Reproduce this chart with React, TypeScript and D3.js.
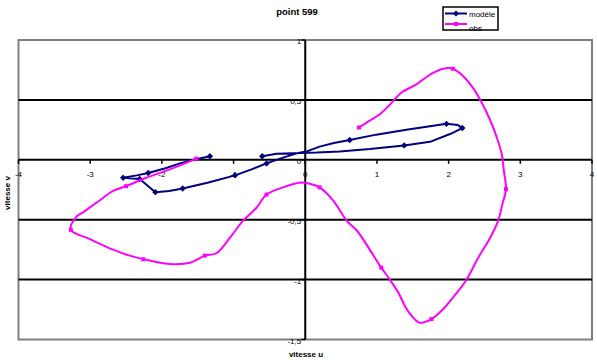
import React from "react";
import * as d3 from "d3";

const title = "point 599";
const xLabel = "vitesse u";
const yLabel = "vitesse v";
const xTicks = [-4, -3, -2, -1, 0, 1, 2, 3, 4];
const yTicks = [1, 0.5, 0, -0.5, -1, -1.5];
const gridValues = [0.5, -0.5, -1];

const modeleLine: [number, number][] = [
  [-1.33, 0.03], [-1.55, 0.0], [-1.75, -0.03], [-1.95, -0.07], [-2.19, -0.11],
  [-2.35, -0.13], [-2.54, -0.15], [-2.31, -0.16], [-2.09, -0.27], [-1.9, -0.26],
  [-1.71, -0.24], [-1.35, -0.19], [-0.98, -0.13], [-0.75, -0.08], [-0.54, -0.03],
  [-0.3, 0.02], [-0.08, 0.06], [0.02, 0.07], [0.2, 0.11], [0.4, 0.14], [0.62, 0.165],
  [0.99, 0.21], [1.41, 0.25], [1.74, 0.28], [1.97, 0.3], [2.13, 0.29], [2.19, 0.265],
  [2.02, 0.215], [1.74, 0.15], [1.38, 0.12], [0.9, 0.09], [0.48, 0.07], [0.16, 0.06],
  [-0.4, 0.05], [-0.6, 0.03],
];
const modeleMarkers: [number, number][] = [
  [-1.33, 0.03], [-2.19, -0.11], [-2.54, -0.15], [-2.31, -0.16], [-2.09, -0.27],
  [-1.71, -0.24], [-0.98, -0.13], [-0.54, -0.03], [0.62, 0.165], [1.97, 0.3],
  [2.19, 0.265], [1.38, 0.12], [-0.6, 0.03],
];

const obsLine: [number, number][] = [
  [0.75, 0.27], [0.88, 0.32], [1.04, 0.38], [1.18, 0.46], [1.34, 0.56], [1.55, 0.63],
  [1.74, 0.71], [1.92, 0.76], [2.06, 0.76], [2.2, 0.7], [2.34, 0.6], [2.45, 0.49],
  [2.58, 0.33], [2.67, 0.19], [2.74, 0.05], [2.77, -0.09], [2.8, -0.245], [2.75, -0.37],
  [2.69, -0.51], [2.58, -0.65], [2.41, -0.82], [2.24, -1.01], [2.06, -1.15], [1.9, -1.26],
  [1.76, -1.33], [1.6, -1.36], [1.48, -1.3], [1.39, -1.22], [1.3, -1.11], [1.18, -1.0],
  [1.06, -0.9], [0.9, -0.75], [0.72, -0.59], [0.58, -0.51], [0.39, -0.34], [0.2, -0.23],
  [0.06, -0.2], [-0.05, -0.19], [-0.15, -0.2], [-0.31, -0.23], [-0.54, -0.29],
  [-0.68, -0.4], [-0.87, -0.51], [-1.05, -0.65], [-1.24, -0.78], [-1.4, -0.8],
  [-1.61, -0.86], [-1.89, -0.87], [-2.17, -0.84], [-2.45, -0.8], [-2.68, -0.75],
  [-3.01, -0.66], [-3.27, -0.585], [-3.2, -0.48], [-3.08, -0.43], [-2.87, -0.34],
  [-2.68, -0.26], [-2.5, -0.22], [-2.22, -0.15], [-1.89, -0.08], [-1.52, 0.01],
];
const obsMarkers: [number, number][] = [
  [0.75, 0.27], [2.06, 0.76], [2.8, -0.245], [1.76, -1.33], [1.06, -0.9], [0.2, -0.23],
  [-0.54, -0.29], [-1.4, -0.8], [-2.26, -0.83], [-3.27, -0.585], [-2.5, -0.22], [-1.52, 0.01],
];

const NAVY = "#000080";
const MAGENTA = "#FF00FF";
const FONT = "'Liberation Sans', Arial, sans-serif";

export default function App() {
  const W = 597, H = 360;
  const x = d3.scaleLinear().domain([-4, 4]).range([18.5, 592]);
  const y = d3.scaleLinear().domain([1, -1.5]).range([40, 339.5]);
  const line = d3.line<[number, number]>().x((d) => x(d[0])).y((d) => y(d[1]));
  const smooth = d3.line<[number, number]>().x((d) => x(d[0])).y((d) => y(d[1])).curve(d3.curveCatmullRom.alpha(0.5));
  const fmt = (v: number) => String(v).replace(".", ",");
  const diamond = (cx: number, cy: number, r: number) =>
    `M${cx},${cy - r}L${cx + r},${cy}L${cx},${cy + r}L${cx - r},${cy}Z`;

  return (
    <svg width={W} height={H} style={{ position: "absolute", left: 0, top: 0 }} fontFamily={FONT}>
      <rect x={0} y={0} width={W} height={H} fill="#fff" />
      <text x={297} y={15} fontSize={9.5} fontWeight="bold" textAnchor="middle">{title}</text>

      {/* plot border */}
      <rect x={x(-4)} y={y(1)} width={x(4) - x(-4)} height={y(-1.5) - y(1)} fill="none" stroke="#808080" strokeWidth={2} />
      {gridValues.map((g) => (
        <line key={g} x1={x(-4)} x2={x(4)} y1={y(g)} y2={y(g)} stroke="#000" strokeWidth={2} />
      ))}
      {/* axes */}
      <line x1={x(-4)} x2={x(4)} y1={y(0)} y2={y(0)} stroke="#000" strokeWidth={2} />
      <line x1={x(0)} x2={x(0)} y1={y(1)} y2={y(-1.5)} stroke="#000" strokeWidth={2} />
      {xTicks.map((t) => (
        <g key={t}>
          <line x1={x(t)} x2={x(t)} y1={y(0)} y2={y(0) + 4} stroke="#000" strokeWidth={1.5} />
          <text x={x(t)} y={y(0) + 17} fontSize={8} textAnchor="middle">{fmt(t)}</text>
        </g>
      ))}
      {yTicks.map((t) => (
        <g key={t}>
          <line x1={x(0) - 4} x2={x(0)} y1={y(t)} y2={y(t)} stroke="#000" strokeWidth={1.5} />
          <text x={x(0) - 4} y={y(t) + 4} fontSize={8} textAnchor="end">{fmt(t)}</text>
        </g>
      ))}

      {/* series */}
      <path d={line(modeleLine) || ""} fill="none" stroke={NAVY} strokeWidth={2} strokeLinejoin="round" />
      {modeleMarkers.map((p, i) => (
        <path key={i} d={diamond(x(p[0]), y(p[1]), 3.2)} fill={NAVY} />
      ))}
      <path d={smooth(obsLine) || ""} fill="none" stroke={MAGENTA} strokeWidth={2} strokeLinejoin="round" />
      {obsMarkers.map((p, i) => (
        <rect key={i} x={x(p[0]) - 2} y={y(p[1]) - 2} width={4} height={4} fill={MAGENTA} />
      ))}

      {/* axis titles */}
      <text x={306} y={357} fontSize={8} fontWeight="bold" textAnchor="middle">{xLabel}</text>
      <text transform="translate(10,193) rotate(-90)" fontSize={8} fontWeight="bold" textAnchor="middle">{yLabel}</text>

      {/* legend */}
      <svg x={442} y={6} width={57} height={25} overflow="hidden">
        <rect x={1} y={1} width={55} height={23} fill="#fff" stroke="#000" strokeWidth={1.5} />
        <line x1={3} x2={25} y1={7.5} y2={7.5} stroke={NAVY} strokeWidth={2} />
        <path d={diamond(14, 7.5, 3)} fill={NAVY} />
        <text x={27} y={10.5} fontSize={8}>modèle</text>
        <line x1={3} x2={25} y1={18} y2={18} stroke={MAGENTA} strokeWidth={2} />
        <rect x={12} y={16} width={4} height={4} fill={MAGENTA} />
        <text x={27} y={25} fontSize={8}>obs</text>
      </svg>
    </svg>
  );
}
